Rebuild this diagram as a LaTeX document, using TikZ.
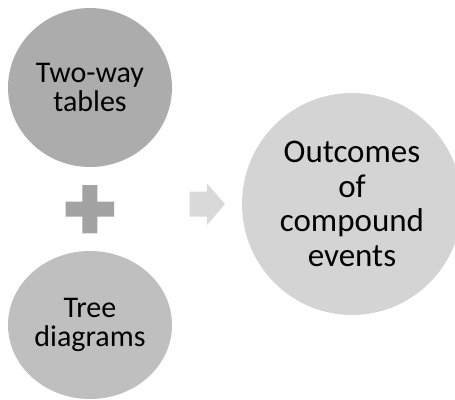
\documentclass[tikz,border=0pt]{standalone}
\usepackage{fontspec}
\setmainfont{Carlito}
\usetikzlibrary{shapes.geometric}
\definecolor{cTop}{HTML}{ACACAC}
\definecolor{cBot}{HTML}{BFBFBF}
\definecolor{cRight}{HTML}{D4D4D4}
\definecolor{cPlus}{HTML}{A3A3A3}
\definecolor{cArrow}{HTML}{D9D9D9}
\tikzset{
  bubble/.style={ellipse, inner sep=0pt, align=center, text=black,
    font=\fontsize{30}{29.5}\selectfont},
}
\begin{document}
\begin{tikzpicture}[x=1pt,y=-1pt]
\useasboundingbox (0,0) rectangle (455,399);
\clip (0,0) rectangle (455,399);
\node[bubble, fill=cTop, minimum width=164pt, minimum height=159pt] (two) at (90,87.5) {Two-way\\tables};
\node[bubble, fill=cBot, minimum width=164pt, minimum height=148pt] (tree) at (90,325) {Tree\\diagrams};
\node[bubble, fill=cRight, minimum width=220pt, minimum height=222pt,
  font=\fontsize{33}{34.5}\selectfont] (out) at (352,204) {Outcomes\\of\\compound\\events};
% plus sign
\fill[cPlus] (82.3,185) -- (97.3,185) -- (97.3,201.7) -- (114,201.7) -- (114,216.7)
  -- (97.3,216.7) -- (97.3,233.3) -- (82.3,233.3) -- (82.3,216.7) -- (65.7,216.7)
  -- (65.7,201.7) -- (82.3,201.7) -- cycle;
% arrow
\fill[cArrow] (189.5,191.7) -- (207,191.7) -- (207,183.5) -- (225,204.2) -- (207,225)
  -- (207,216.7) -- (189.5,216.7) -- cycle;
\end{tikzpicture}
\end{document}
